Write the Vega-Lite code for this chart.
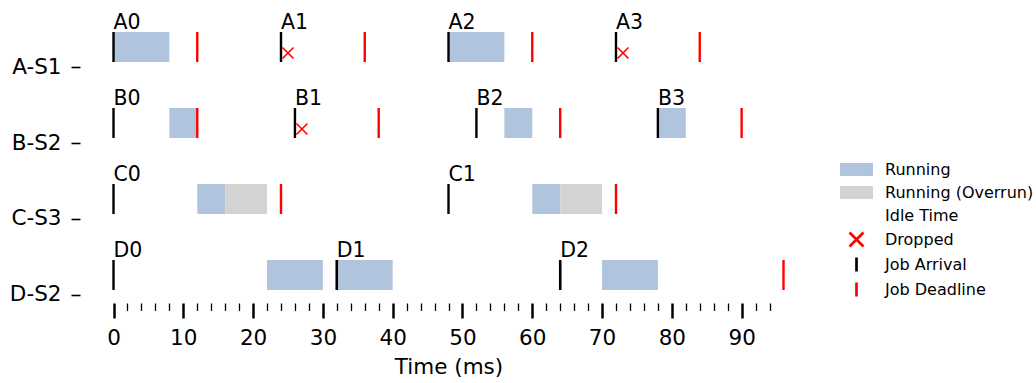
{
  "$schema": "https://vega.github.io/schema/vega-lite/v6.json",
  "width": 737,
  "height": 284,
  "autosize": {"type": "none"},
  "padding": {"left": 80, "top": 19, "right": 219, "bottom": 80},
  "background": "white",
  "datasets": {
    "runs": [
      {"task": "A-S1", "t": 0, "end": 8, "cat": "Running"},
      {"task": "A-S1", "t": 48, "end": 56, "cat": "Running"},
      {"task": "B-S2", "t": 8, "end": 12, "cat": "Running"},
      {"task": "B-S2", "t": 56, "end": 60, "cat": "Running"},
      {"task": "B-S2", "t": 78, "end": 82, "cat": "Running"},
      {"task": "C-S3", "t": 12, "end": 16, "cat": "Running"},
      {"task": "C-S3", "t": 16, "end": 22, "cat": "Running (Overrun)"},
      {"task": "C-S3", "t": 60, "end": 64, "cat": "Running"},
      {"task": "C-S3", "t": 64, "end": 70, "cat": "Running (Overrun)"},
      {"task": "D-S2", "t": 22, "end": 30, "cat": "Running"},
      {"task": "D-S2", "t": 32, "end": 40, "cat": "Running"},
      {"task": "D-S2", "t": 70, "end": 78, "cat": "Running"}
    ],
    "events": [
      {"task": "A-S1", "t": 12, "cat": "Job Deadline", "job": ""},
      {"task": "A-S1", "t": 36, "cat": "Job Deadline", "job": ""},
      {"task": "A-S1", "t": 60, "cat": "Job Deadline", "job": ""},
      {"task": "A-S1", "t": 84, "cat": "Job Deadline", "job": ""},
      {"task": "B-S2", "t": 12, "cat": "Job Deadline", "job": ""},
      {"task": "B-S2", "t": 38, "cat": "Job Deadline", "job": ""},
      {"task": "B-S2", "t": 64, "cat": "Job Deadline", "job": ""},
      {"task": "B-S2", "t": 90, "cat": "Job Deadline", "job": ""},
      {"task": "C-S3", "t": 24, "cat": "Job Deadline", "job": ""},
      {"task": "C-S3", "t": 72, "cat": "Job Deadline", "job": ""},
      {"task": "D-S2", "t": 32, "cat": "Job Deadline", "job": ""},
      {"task": "D-S2", "t": 64, "cat": "Job Deadline", "job": ""},
      {"task": "D-S2", "t": 96, "cat": "Job Deadline", "job": ""},
      {"task": "A-S1", "t": 0, "cat": "Job Arrival", "job": "A0"},
      {"task": "A-S1", "t": 24, "cat": "Job Arrival", "job": "A1"},
      {"task": "A-S1", "t": 48, "cat": "Job Arrival", "job": "A2"},
      {"task": "A-S1", "t": 72, "cat": "Job Arrival", "job": "A3"},
      {"task": "B-S2", "t": 0, "cat": "Job Arrival", "job": "B0"},
      {"task": "B-S2", "t": 26, "cat": "Job Arrival", "job": "B1"},
      {"task": "B-S2", "t": 52, "cat": "Job Arrival", "job": "B2"},
      {"task": "B-S2", "t": 78, "cat": "Job Arrival", "job": "B3"},
      {"task": "C-S3", "t": 0, "cat": "Job Arrival", "job": "C0"},
      {"task": "C-S3", "t": 48, "cat": "Job Arrival", "job": "C1"},
      {"task": "D-S2", "t": 0, "cat": "Job Arrival", "job": "D0"},
      {"task": "D-S2", "t": 32, "cat": "Job Arrival", "job": "D1"},
      {"task": "D-S2", "t": 64, "cat": "Job Arrival", "job": "D2"},
      {"task": "A-S1", "t": 25, "cat": "Dropped", "job": ""},
      {"task": "A-S1", "t": 73, "cat": "Dropped", "job": ""},
      {"task": "B-S2", "t": 27, "cat": "Dropped", "job": ""}
    ]
  },
  "encoding": {
    "x": {
      "field": "t",
      "type": "quantitative",
      "scale": {"domain": [-4.8, 100.8], "nice": false, "zero": false},
      "axis": {
        "title": "Time (ms)",
        "domain": false,
        "grid": false,
        "values": [0, 2, 4, 6, 8, 10, 12, 14, 16, 18, 20, 22, 24, 26, 28, 30, 32, 34, 36, 38, 40, 42, 44, 46, 48, 50, 52, 54, 56, 58, 60, 62, 64, 66, 68, 70, 72, 74, 76, 78, 80, 82, 84, 86, 88, 90, 92, 94],
        "tickSize": {"condition": {"test": "datum.value % 10 === 0", "value": 15}, "value": 7.5},
        "tickWidth": {"condition": {"test": "datum.value % 10 === 0", "value": 2.5}, "value": 1.3},
        "tickColor": "black",
        "labelExpr": "datum.value % 10 === 0 ? datum.label : ''",
        "labelFont": "DejaVu Sans",
        "labelFontSize": 21.5,
        "labelColor": "black",
        "labelPadding": 9,
        "labelFlush": false,
        "labelOverlap": false,
        "titleFont": "DejaVu Sans",
        "titleFontSize": 21.5,
        "titleFontWeight": "normal",
        "titleColor": "black",
        "titlePadding": 8
      }
    },
    "y": {
      "field": "task",
      "type": "nominal",
      "scale": {"type": "band", "domain": ["A-S1", "B-S2", "C-S3", "D-S2"], "paddingInner": 0.605, "paddingOuter": 0.171},
      "axis": {
        "title": null,
        "domain": false,
        "grid": false,
        "tickSize": 9,
        "tickWidth": 1.6,
        "tickColor": "black",
        "tickOffset": 20,
        "labelPadding": 10,
        "labelFont": "DejaVu Sans",
        "labelFontSize": 21.5,
        "labelColor": "black"
      }
    }
  },
  "layer": [
    {
      "data": {"name": "runs"},
      "mark": {"type": "bar", "opacity": 1},
      "encoding": {
        "x2": {"field": "end"},
        "fill": {
          "field": "cat", "type": "nominal",
          "scale": {"domain": ["Running", "Running (Overrun)", "Idle Time", "Dropped", "Job Arrival", "Job Deadline"], "range": ["#B0C4DE", "#D3D3D3", "transparent", "#FF0000", "#000000", "#FF0000"]},
          "legend": {"title": null}
        }
      }
    },
    {
      "data": {"name": "events"},
      "transform": [{"filter": "datum.cat === 'Job Deadline' || datum.cat === 'Job Arrival'"}],
      "mark": {"type": "point", "filled": true, "size": 900, "strokeWidth": 2.4, "opacity": 1},
      "encoding": {
        "fill": {
          "field": "cat", "type": "nominal",
          "scale": {"domain": ["Running", "Running (Overrun)", "Idle Time", "Dropped", "Job Arrival", "Job Deadline"], "range": ["#B0C4DE", "#D3D3D3", "transparent", "#FF0000", "#000000", "#FF0000"]},
          "legend": {"title": null}
        },
        "stroke": {
          "field": "cat", "type": "nominal",
          "scale": {"domain": ["Running", "Running (Overrun)", "Idle Time", "Dropped", "Job Arrival", "Job Deadline"], "range": ["#B0C4DE", "#D3D3D3", "transparent", "#FF0000", "#000000", "#FF0000"]},
          "legend": {"title": null}
        },
        "shape": {
          "field": "cat", "type": "nominal",
          "scale": {"domain": ["Running", "Running (Overrun)", "Idle Time", "Dropped", "Job Arrival", "Job Deadline"], "range": ["M-2.16,-0.74H2.16V0.74H-2.16Z", "M-2.16,-0.74H2.16V0.74H-2.16Z", "M-2.16,-0.74H2.16V0.74H-2.16Z", "M-1,-1L1,1M-1,1L1,-1", "M0,-1V1", "M0,-1V1"]},
          "legend": {"title": null}
        }
      }
    },
    {
      "data": {"name": "events"},
      "transform": [{"filter": "datum.cat === 'Dropped'"}],
      "mark": {"type": "point", "filled": true, "size": 121, "strokeWidth": 1.6, "opacity": 1, "yOffset": 6},
      "encoding": {
        "fill": {
          "field": "cat", "type": "nominal",
          "scale": {"domain": ["Running", "Running (Overrun)", "Idle Time", "Dropped", "Job Arrival", "Job Deadline"], "range": ["#B0C4DE", "#D3D3D3", "transparent", "#FF0000", "#000000", "#FF0000"]},
          "legend": {"title": null}
        },
        "stroke": {
          "field": "cat", "type": "nominal",
          "scale": {"domain": ["Running", "Running (Overrun)", "Idle Time", "Dropped", "Job Arrival", "Job Deadline"], "range": ["#B0C4DE", "#D3D3D3", "transparent", "#FF0000", "#000000", "#FF0000"]},
          "legend": {"title": null}
        },
        "shape": {
          "field": "cat", "type": "nominal",
          "scale": {"domain": ["Running", "Running (Overrun)", "Idle Time", "Dropped", "Job Arrival", "Job Deadline"], "range": ["M-2.16,-0.74H2.16V0.74H-2.16Z", "M-2.16,-0.74H2.16V0.74H-2.16Z", "M-2.16,-0.74H2.16V0.74H-2.16Z", "M-1,-1L1,1M-1,1L1,-1", "M0,-1V1", "M0,-1V1"]},
          "legend": {"title": null}
        }
      }
    },
    {
      "data": {"name": "events"},
      "transform": [{"filter": "datum.cat === 'Job Arrival'"}],
      "mark": {"type": "text", "align": "left", "baseline": "alphabetic", "dy": -18, "font": "DejaVu Sans", "fontSize": 20.5, "color": "black"},
      "encoding": {
        "text": {"field": "job"}
      }
    }
  ],
  "config": {
    "view": {"stroke": null},
    "legend": {
      "orient": "none",
      "legendX": 768,
      "legendY": 142,
      "padding": 0,
      "labelFont": "DejaVu Sans",
      "labelFontSize": 16,
      "labelColor": "black",
      "labelLimit": 400,
      "labelOffset": 20,
      "symbolSize": 196,
      "symbolStrokeWidth": 2.7,
      "symbolOpacity": 1,
      "rowPadding": 0
    }
  }
}
